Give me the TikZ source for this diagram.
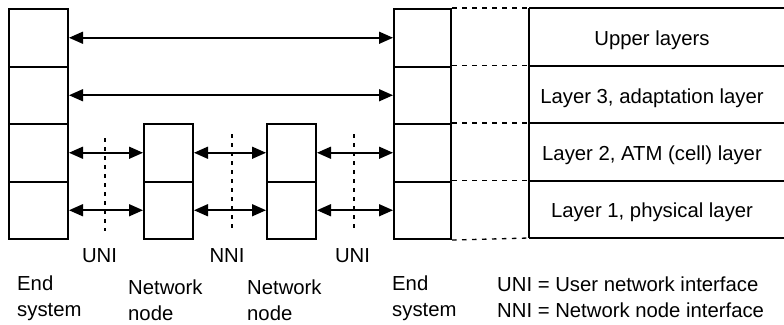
\documentclass[tikz,border=0pt]{standalone}
\usepackage{fontspec}
\setmainfont{Liberation Sans}
\usetikzlibrary{arrows.meta}
\begin{document}
\begin{tikzpicture}[x=1pt,y=-1pt,
  cellbox/.style={draw, line width=2pt, inner sep=0pt, anchor=north west, minimum height=57.5pt},
  endL/.style={cellbox, minimum width=59pt},
  endR/.style={cellbox, minimum width=57pt},
  netbox/.style={cellbox, minimum width=49pt},
  arr/.style={line width=1.6pt, {Triangle[length=14pt,width=12pt]}-{Triangle[length=14pt,width=12pt]}},
  vdots/.style={line width=1.5pt, dash pattern=on 4pt off 5pt},
  hdots/.style={line width=1.3pt, dash pattern=on 4.5pt off 5.5pt},
  tline/.style={line width=2pt},
  lbl/.style={inner sep=0pt, font=\fontsize{20.3pt}{24pt}\selectfont}
]
\useasboundingbox (0,0) rectangle (784,324);

% left end system
\node[endL] (L1) at (8,8) {};
\node[endL] (L2) at (8,65.5) {};
\node[endL] (L3) at (8,123) {};
\node[endL] (L4) at (8,180.5) {};
% network nodes
\node[netbox] (A3) at (143,123) {};
\node[netbox] (A4) at (143,180.5) {};
\node[netbox] (B3) at (266,123) {};
\node[netbox] (B4) at (266,180.5) {};
% right end system
\node[endR] (R1) at (393,8) {};
\node[endR] (R2) at (393,65.5) {};
\node[endR] (R3) at (393,123) {};
\node[endR] (R4) at (393,180.5) {};

% table
\coordinate (t0) at (529,8);
\coordinate (t1) at (529,65.5);
\coordinate (t2) at (529,123);
\coordinate (t3) at (529,180.5);
\coordinate (t4) at (529,238);
\coordinate (e0) at (784,8);
\coordinate (e1) at (784,65.5);
\coordinate (e2) at (784,123);
\coordinate (e3) at (784,180.5);
\coordinate (e4) at (784,238);
\draw[tline] (t0) -- (t4);
\draw[tline] (t0) -- (e0);
\draw[tline] (t1) -- (e1);
\draw[tline] (t2) -- (e2);
\draw[tline] (t3) -- (e3);
\draw[tline] (t4) -- (e4);

\draw[hdots] (R1.north east) -- (t0);
\draw[hdots] (R2.north east) -- (t1);
\draw[hdots] (R3.north east) -- (t2);
\draw[hdots] (R4.north east) -- (t3);
\draw[hdots] (R4.south east) -- (t4);

\node[lbl, anchor=base] (T1) at (652,45) {Upper layers};
\node[lbl, anchor=base] (T2) at (652,103) {Layer 3, adaptation layer};
\node[lbl, anchor=base] (T3) at (652,160) {Layer 2, ATM (cell) layer};
\node[lbl, anchor=base] (T4) at (652,217) {Layer 1, physical layer};

% arrows
\draw[arr] (L1.east) -- (R1.west);
\draw[arr] (L2.east) -- (R2.west);
\draw[arr] (L3.east) -- (A3.west);
\draw[arr] (A3.east) -- (B3.west);
\draw[arr] (B3.east) -- (R3.west);
\draw[arr] (L4.east) -- (A4.west);
\draw[arr] (A4.east) -- (B4.west);
\draw[arr] (B4.east) -- (R4.west);

% interface dotted lines
\coordinate (d1t) at (105,138);
\coordinate (d1b) at (105,231);
\coordinate (d2t) at (232,134);
\coordinate (d2b) at (232,228);
\coordinate (d3t) at (354,134);
\coordinate (d3b) at (354,228);
\draw[vdots] (d1t) -- (d1b);
\draw[vdots] (d2t) -- (d2b);
\draw[vdots] (d3t) -- (d3b);

% labels
\node[lbl, anchor=base] (uni1) at (99.5,262) {UNI};
\node[lbl, anchor=base] (nni) at (227,262) {NNI};
\node[lbl, anchor=base] (uni2) at (352.5,262) {UNI};

\node[lbl, anchor=base west] (es1a) at (17,290) {End};
\node[lbl, anchor=base west] (es1b) at (17,316) {system};
\node[lbl, anchor=base west] (nn1a) at (128,294) {Network};
\node[lbl, anchor=base west] (nn1b) at (128,320) {node};
\node[lbl, anchor=base west] (nn2a) at (247,294) {Network};
\node[lbl, anchor=base west] (nn2b) at (247,320) {node};
\node[lbl, anchor=base west] (es2a) at (392,290) {End};
\node[lbl, anchor=base west] (es2b) at (392,316) {system};
\node[lbl, anchor=base west] (lg1) at (497,291) {UNI = User network interface};
\node[lbl, anchor=base west] (lg2) at (497,317) {NNI = Network node interface};
\end{tikzpicture}
\end{document}
